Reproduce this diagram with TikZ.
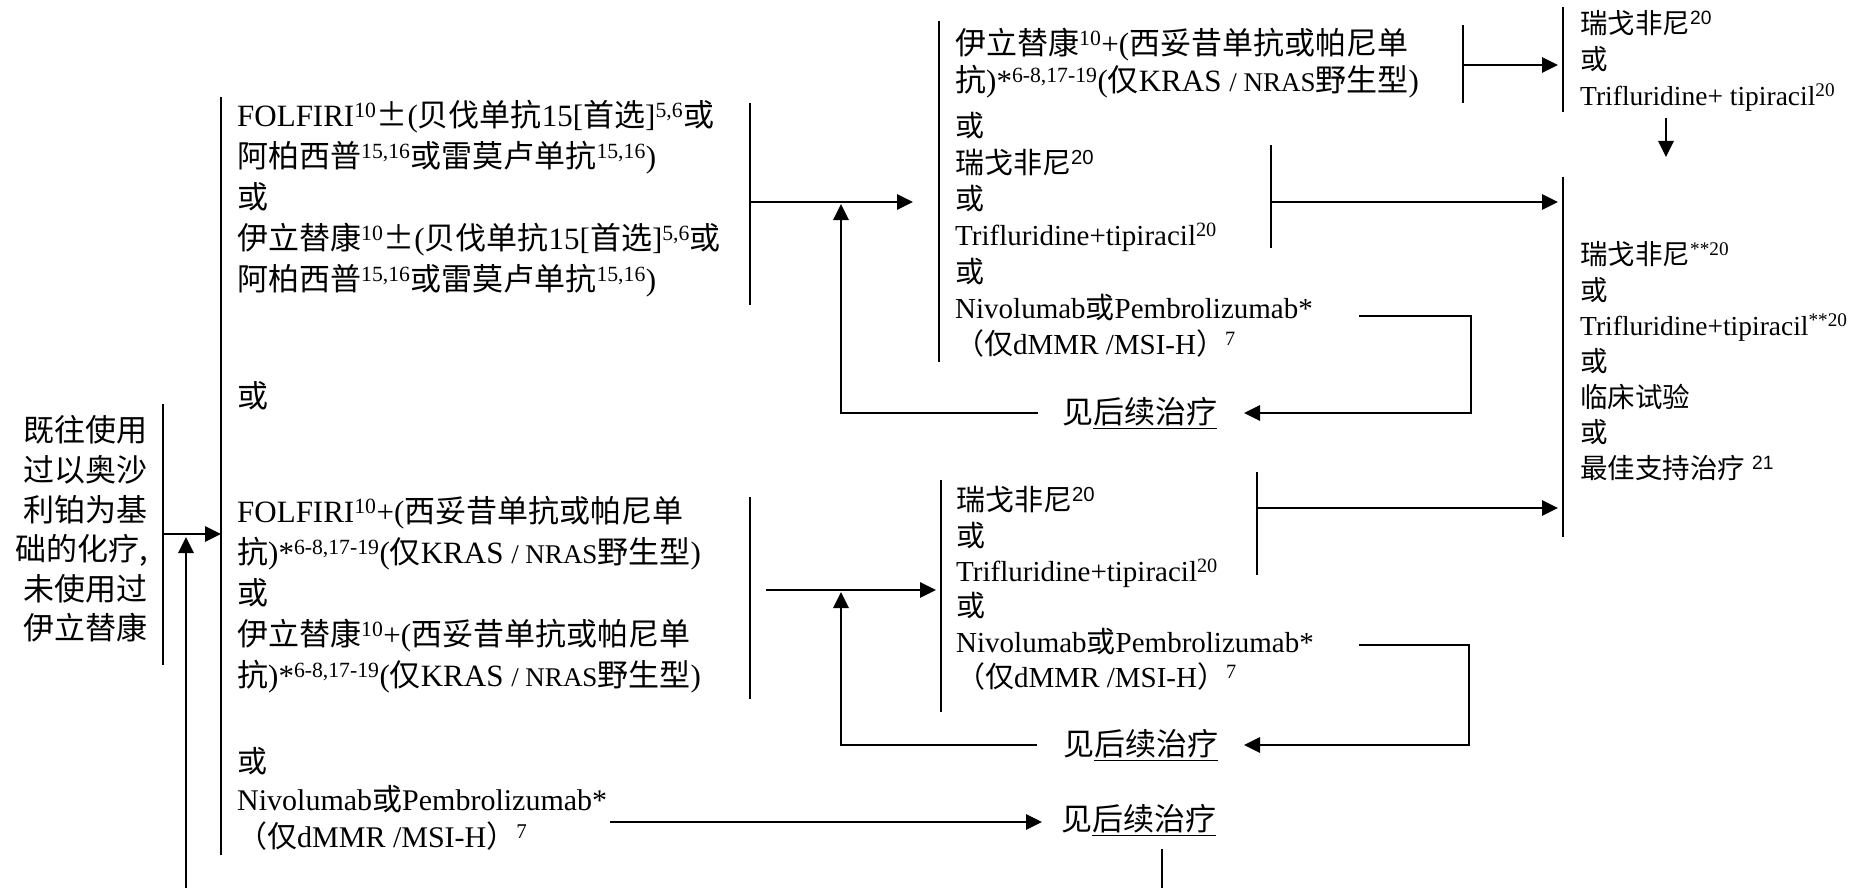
\documentclass[tikz,border=0pt]{standalone}
\usepackage{fontspec}
\setmainfont{Liberation Serif}
\setsansfont{Liberation Sans}
\newfontfamily\cjk{Noto Sans CJK SC}
\newcommand\zh[1]{{\cjk #1}}
\newcommand\sps[1]{\textsuperscript{#1}}
\newcommand\sfs[1]{\textsuperscript{\sffamily #1}}
\usetikzlibrary{arrows.meta}
\tikzset{
  brk/.style={line width=2.2pt},
  arr/.style={line width=2.8pt,-{Triangle[length=16pt,width=15pt]}},
  txt/.style={anchor=west,inner sep=0pt,align=left},
  fL/.style={font=\fontsize{31}{41}\selectfont},
  fM/.style={font=\fontsize{29}{36.3}\selectfont},
  fR/.style={font=\fontsize{27.5}{35.6}\selectfont},
  see/.style={anchor=west,inner sep=0pt,font=\fontsize{31}{36}\selectfont},
}
\begin{document}
\begin{tikzpicture}[x=1pt,y=-1pt]
\useasboundingbox (0,0) rectangle (1863,888);

% ---------- left start box ----------
\node[anchor=east,inner sep=0pt,align=right,font=\cjk\fontsize{31}{39.6}\selectfont] (prior) at (148,529)
  {既往使用\\过以奥沙\\利铂为基\\础的化疗,\\未使用过\\伊立替康};
\coordinate (priorT) at (163,404); \coordinate (priorB) at (163,665);
\draw[brk] (priorT) -- (priorB);
\coordinate (priorOut) at (163,534);
\coordinate (trunkIn) at (221,534);
\draw[arr] (priorOut) -- (trunkIn);
\coordinate (loopBot) at (186,888); \coordinate (loopEnd) at (186,537);
\draw[arr] (loopBot) -- (loopEnd);
\coordinate (trunkT) at (221,97); \coordinate (trunkB) at (221,855);
\draw[brk] (trunkT) -- (trunkB);

% ---------- block A ----------
\node[txt,fL] (A) at (237,199)
  {FOLFIRI\sps{10}\zh{±}(\zh{贝伐单抗}15[\zh{首选}]\sps{5,6}\zh{或}\\
   \zh{阿柏西普}\sps{15,16}\zh{或雷莫卢单抗}\sps{15,16})\\
   \zh{或}\\
   \zh{伊立替康}\sps{10}\zh{±}(\zh{贝伐单抗}15[\zh{首选}]\sps{5,6}\zh{或}\\
   \zh{阿柏西普}\sps{15,16}\zh{或雷莫卢单抗}\sps{15,16})};
\coordinate (AT) at (750,103); \coordinate (AB) at (750,305);
\draw[brk] (AT) -- (AB);
\coordinate (Aout) at (750,202); \coordinate (MTin) at (913,202);
\draw[arr] (Aout) -- (MTin);

\node[txt,fL] (orA) at (237,396) {\zh{或}};

% ---------- block B ----------
\node[txt,font=\fontsize{31}{41}\selectfont] (B) at (237,595)
  {FOLFIRI\sps{10}+(\zh{西妥昔单抗或帕尼单}\\
   \zh{抗})*\sps{6-8,17-19}(\zh{仅}KRAS {\fontsize{27}{41}\selectfont / NRAS}\zh{野生型})\\
   \zh{或}\\
   \zh{伊立替康}\sps{10}+(\zh{西妥昔单抗或帕尼单}\\
   \zh{抗})*\sps{6-8,17-19}(\zh{仅}KRAS {\fontsize{27}{41}\selectfont / NRAS}\zh{野生型})};
\coordinate (BT) at (750,497); \coordinate (BB) at (750,699);
\draw[brk] (BT) -- (BB);
\coordinate (Bout) at (766,590); \coordinate (MBin) at (936,590);
\draw[arr] (Bout) -- (MBin);

% ---------- block C ----------
\node[txt,font=\fontsize{30}{37.5}\selectfont] (C) at (237,799)
  {\zh{或}\\
   Nivolumab\zh{或}Pembrolizumab*\\
   \zh{（仅}dMMR /MSI-H\zh{）}\sps{7}};

% ---------- see-later nodes ----------
\node[see] (see1) at (1062,413) {\zh{见\underline{后续治疗}}};
\node[see] (see2) at (1063,745) {\zh{见\underline{后续治疗}}};
\node[see] (see3) at (1061,820) {\zh{见\underline{后续治疗}}};

\coordinate (Cout) at (610,822); \coordinate (see3in) at (1042,822);
\draw[arr] (Cout) -- (see3in);
\coordinate (see3down) at (1162,849); \coordinate (see3bot) at (1162,888);
\draw[brk] (see3down) -- (see3bot);

% ---------- middle top block ----------
\node[txt,fM] (MT) at (955,193)
  {{\fontsize{31}{36.3}\selectfont\zh{伊立替康}\sps{10}+(\zh{西妥昔单抗或帕尼单}}\\[0.7pt]
   {\fontsize{31}{36.3}\selectfont\zh{抗})*\sps{6-8,17-19}(\zh{仅}KRAS {\fontsize{27}{36.3}\selectfont / NRAS}\zh{野生型})}\\[8.7pt]
   \zh{或}\\
   \zh{瑞戈非尼}\sfs{20}\\
   \zh{或}\\
   Trifluridine+tipiracil\sps{20}\\
   \zh{或}\\
   Nivolumab\zh{或}Pembrolizumab*\\
   \zh{（仅}dMMR /MSI-H\zh{）}\sps{7}};
\coordinate (MTT) at (939,21); \coordinate (MTB) at (939,362);
\draw[brk] (MTT) -- (MTB);
% loop back from see1
\coordinate (see1l) at (1038,413); \coordinate (loop1c) at (841,413); \coordinate (loop1e) at (841,204);
\draw[arr] (see1l) -- (loop1c) -- (loop1e);
% small bracket (first two lines)
\coordinate (s1T) at (1463,25); \coordinate (s1B) at (1463,103);
\draw[brk] (s1T) -- (s1B);
\coordinate (s1o) at (1463,65); \coordinate (RTin) at (1558,65);
\draw[arr] (s1o) -- (RTin);
% bracket for rego/trif
\coordinate (s2T) at (1271,145); \coordinate (s2B) at (1271,248);
\draw[brk] (s2T) -- (s2B);
\coordinate (s2o) at (1271,202); \coordinate (RBin1) at (1558,202);
\draw[arr] (s2o) -- (RBin1);
% nivolumab -> see1
\coordinate (n1s) at (1359,316); \coordinate (n1c1) at (1471,316); \coordinate (n1c2) at (1471,413); \coordinate (see1r) at (1244,413);
\draw[arr] (n1s) -- (n1c1) -- (n1c2) -- (see1r);

% ---------- middle bottom block ----------
\node[txt,font=\fontsize{29}{35.4}\selectfont] (MB) at (956,588.5)
  {\zh{瑞戈非尼}\sfs{20}\\
   \zh{或}\\
   Trifluridine+tipiracil\sps{20}\\
   \zh{或}\\
   Nivolumab\zh{或}Pembrolizumab*\\
   \zh{（仅}dMMR /MSI-H\zh{）}\sps{7}};
\coordinate (MBT) at (941,480); \coordinate (MBB) at (941,712);
\draw[brk] (MBT) -- (MBB);
\coordinate (s3T) at (1257,472); \coordinate (s3B) at (1257,575);
\draw[brk] (s3T) -- (s3B);
\coordinate (s3o) at (1257,508); \coordinate (RBin2) at (1558,508);
\draw[arr] (s3o) -- (RBin2);
\coordinate (n2s) at (1359,645); \coordinate (n2c1) at (1469,645); \coordinate (n2c2) at (1469,745); \coordinate (see2r) at (1244,745);
\draw[arr] (n2s) -- (n2c1) -- (n2c2) -- (see2r);
\coordinate (see2l) at (1037,745); \coordinate (loop2c) at (841,745); \coordinate (loop2e) at (841,592);
\draw[arr] (see2l) -- (loop2c) -- (loop2e);

% ---------- right column ----------
\node[txt,font=\fontsize{27.5}{36}\selectfont] (RT) at (1580,61)
  {\zh{瑞戈非尼}\sfs{20}\\
   \zh{或}\\
   Trifluridine+ tipiracil\sps{20}};
\coordinate (RTT) at (1563,7); \coordinate (RTB) at (1563,112);
\draw[brk] (RTT) -- (RTB);
\coordinate (RTd) at (1666,118); \coordinate (RBtop) at (1666,157);
\draw[arr] (RTd) -- (RBtop);

\node[txt,fR] (RB) at (1580,361)
  {\zh{瑞戈非尼}\sps{**20}\\
   \zh{或}\\
   Trifluridine+tipiracil\sps{**20}\\
   \zh{或}\\
   \zh{临床试验}\\
   \zh{或}\\
   \zh{最佳支持治疗} \sfs{21}};
\coordinate (RBT) at (1563,177); \coordinate (RBB) at (1563,537);
\draw[brk] (RBT) -- (RBB);
\end{tikzpicture}
\end{document}
